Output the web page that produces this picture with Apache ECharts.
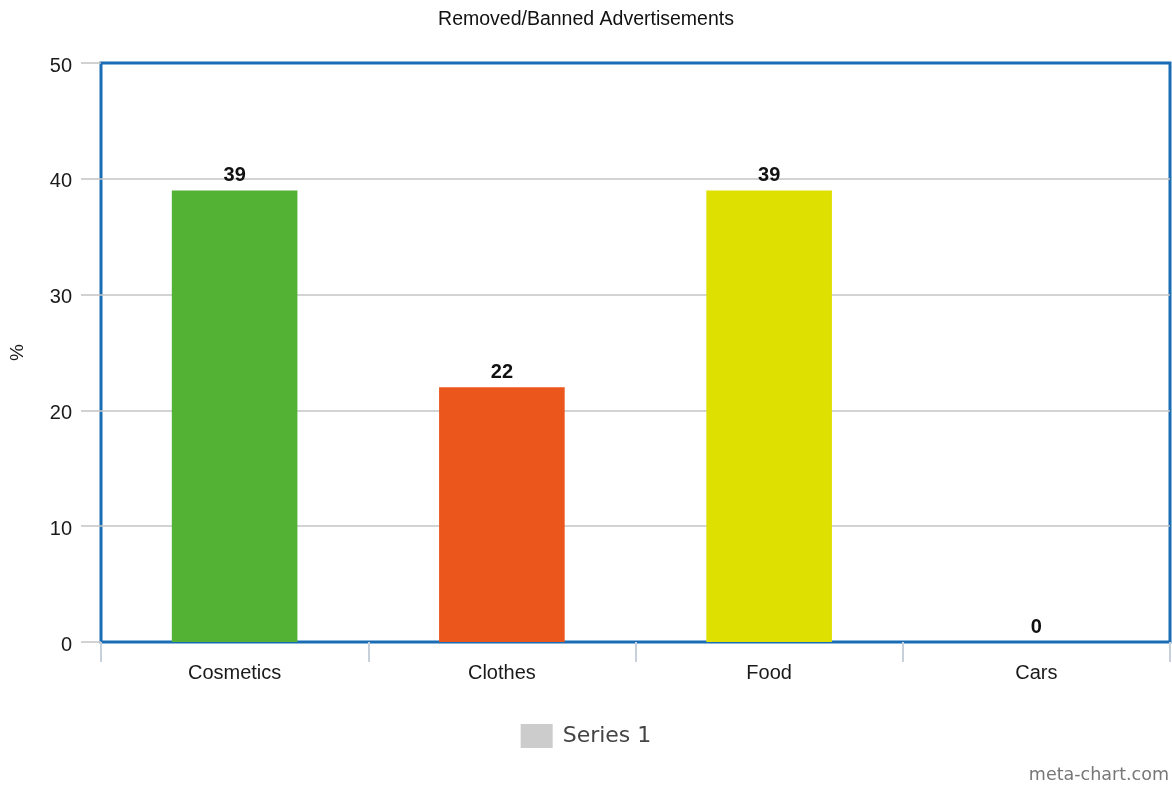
<!DOCTYPE html>
<html>
<head>
<meta charset="utf-8">
<script src="https://cdn.jsdelivr.net/npm/echarts@6/dist/echarts.min.js"></script>
<style>
  html, body { margin: 0; padding: 0; background: #ffffff; }
  #chart { width: 1172px; height: 787px; }
</style>
</head>
<body>
<div id="chart"></div>
<script>
// Chart data
const categories = ['Cosmetics', 'Clothes', 'Food', 'Cars'];
const values = [39, 22, 39, 0];
const barColors = ['#53b234', '#eb561c', '#dde000', '#888888'];
const yTicks = { min: 0, max: 50, interval: 10 };
const seriesName = 'Series 1';
const titleText = 'Removed/Banned Advertisements';

const chart = echarts.init(document.getElementById('chart'), null, { renderer: 'canvas' });

const gridGray = '#c4c4c4';
const none = 'rgba(0,0,0,0)';

const option = {
  backgroundColor: '#ffffff',
  animation: false,
  title: {
    text: titleText,
    left: 'center',
    top: 5,
    textStyle: { fontFamily: 'Liberation Sans, Arial, sans-serif', fontSize: 19.5, fontWeight: 'normal', color: '#111111' }
  },
  legend: {
    data: [seriesName],
    top: 719,
    left: 'center',
    icon: 'rect',
    itemWidth: 32,
    itemHeight: 24,
    textStyle: { fontFamily: 'DejaVu Sans, sans-serif', fontSize: 22, color: '#444444', padding: [0, 0, 0, 5] }
  },
  grid: {
    left: 101,
    right: 2,
    top: 63,
    bottom: 145,
    show: true,
    borderColor: '#1a6db5',
    borderWidth: 3,
    backgroundColor: 'transparent'
  },
  xAxis: {
    type: 'category',
    data: categories,
    axisLine: { show: false },
    axisTick: { show: true, length: 20, lineStyle: { color: '#c8d0dc', width: 2 } },
    axisLabel: { fontFamily: 'Liberation Sans, Arial, sans-serif', fontSize: 20, color: '#1a1a1a', margin: 21 }
  },
  yAxis: {
    type: 'value',
    min: yTicks.min,
    max: yTicks.max,
    interval: yTicks.interval,
    name: '%',
    nameLocation: 'middle',
    nameGap: 74,
    nameRotate: 90,
    nameTextStyle: { fontFamily: 'Liberation Sans, Arial, sans-serif', fontSize: 19, color: '#1a1a1a' },
    axisLine: { show: false },
    axisTick: { show: true, length: 20, lineStyle: { color: gridGray, width: 1.5 } },
    axisLabel: {
      margin: 29,
      formatter: '{v|{value}}',
      rich: {
        v: { fontFamily: 'Liberation Sans, Arial, sans-serif', fontSize: 20, color: '#1a1a1a', padding: [6, 0, 0, 0] }
      }
    },
    // inner gridlines only; the frame is drawn by the grid border
    splitLine: { show: true, lineStyle: { color: [none, gridGray, gridGray, gridGray, gridGray, none], width: 1.5 } }
  },
  series: [{
    name: seriesName,
    type: 'bar',
    barWidth: '47%',
    itemStyle: { color: '#cccccc' },
    data: values.map((v, i) => ({ value: v, itemStyle: { color: barColors[i] } })),
    label: {
      show: true,
      position: 'top',
      distance: 5,
      fontFamily: 'Liberation Sans, Arial, sans-serif',
      fontSize: 20,
      fontWeight: 'bold',
      color: '#111111'
    }
  }],
  graphic: [{
    type: 'text',
    right: 3,
    bottom: 3,
    style: {
      text: 'meta-chart.com',
      fontFamily: 'DejaVu Sans, sans-serif',
      fontSize: 17.5,
      fill: '#777777'
    }
  }]
};

chart.setOption(option);
</script>
</body>
</html>
